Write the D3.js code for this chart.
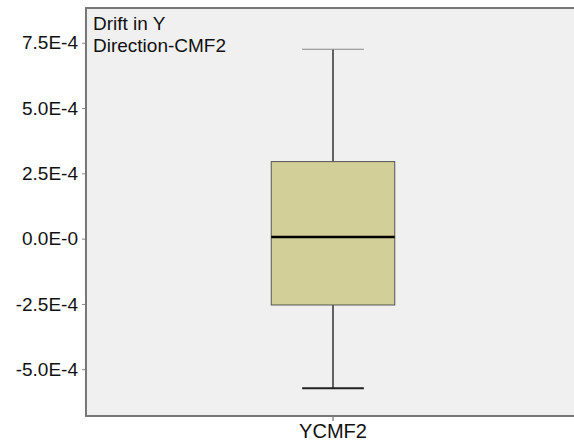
<!DOCTYPE html>
<html>
<head>
<meta charset="utf-8">
<script src="https://cdn.jsdelivr.net/npm/d3@7"></script>
<style>
  body { margin: 0; background: #fff; }
  svg text { font-family: "Liberation Sans", Arial, sans-serif; fill: #111; }
</style>
</head>
<body>
<svg id="chart" width="574" height="444"></svg>
<script>
/*********************** data ***********************/
var categories = ["YCMF2"];
var whiskerHigh = [7.25e-4];
var q3Values = [2.95e-4];
var medianValues = [0.06e-4];
var q1Values = [-2.54e-4];
var whiskerLow = [-5.73e-4];
var yTickValues = [-5e-4, -2.5e-4, 0, 2.5e-4, 5e-4, 7.5e-4];
var yTickLabels = ["-5.0E-4", "-2.5E-4", "0.0E-0", "2.5E-4", "5.0E-4", "7.5E-4"];
var titleLines = ["Drift in Y", "Direction-CMF2"];

/*********************** layout ***********************/
var W = 574, H = 444;
var mLeft = 86, mTop = 8, mBottom = 416, mRight = 580;

var svg = d3.select("#chart");

var x = d3.scaleBand().domain(categories).range([mLeft, mRight]).paddingInner(0).paddingOuter(1.5);
var y = d3.scaleLinear().domain([-6.79e-4, 8.83e-4]).range([mBottom, mTop]);

// plot background
svg.append("rect")
	.attr("x", mLeft).attr("y", mTop)
	.attr("width", mRight - mLeft).attr("height", mBottom - mTop)
	.attr("fill", "#f0f0f0");

var boxes = categories.map(function(c, i) {
	return {cat: c, hi: whiskerHigh[i], q3: q3Values[i], med: medianValues[i], q1: q1Values[i], lo: whiskerLow[i]};
});

var g = svg.selectAll("g.box").data(boxes).enter().append("g").attr("class", "box");
var bw = x.bandwidth();
function cx(d) { return x(d.cat) + bw / 2; }

// whiskers
g.append("line")
	.attr("x1", cx).attr("x2", cx)
	.attr("y1", function(d) { return y(d.hi); })
	.attr("y2", function(d) { return y(d.q3); })
	.attr("stroke", "#333").attr("stroke-width", 1.5);
g.append("line")
	.attr("x1", cx).attr("x2", cx)
	.attr("y1", function(d) { return y(d.q1); })
	.attr("y2", function(d) { return y(d.lo); })
	.attr("stroke", "#333").attr("stroke-width", 1.5);
// caps
g.append("line")
	.attr("x1", function(d) { return cx(d) - bw / 4; })
	.attr("x2", function(d) { return cx(d) + bw / 4; })
	.attr("y1", function(d) { return y(d.hi); })
	.attr("y2", function(d) { return y(d.hi); })
	.attr("stroke", "#888").attr("stroke-width", 1.2);
g.append("line")
	.attr("x1", function(d) { return cx(d) - bw / 4; })
	.attr("x2", function(d) { return cx(d) + bw / 4; })
	.attr("y1", function(d) { return y(d.lo); })
	.attr("y2", function(d) { return y(d.lo); })
	.attr("stroke", "#222").attr("stroke-width", 2);
// box
g.append("rect")
	.attr("x", function(d) { return x(d.cat); })
	.attr("y", function(d) { return y(d.q3); })
	.attr("width", bw)
	.attr("height", function(d) { return y(d.q1) - y(d.q3); })
	.attr("fill", "#d3cf98")
	.attr("stroke", "#555").attr("stroke-width", 1);
// median
g.append("line")
	.attr("x1", function(d) { return x(d.cat); })
	.attr("x2", function(d) { return x(d.cat) + bw; })
	.attr("y1", function(d) { return y(d.med); })
	.attr("y2", function(d) { return y(d.med); })
	.attr("stroke", "#000").attr("stroke-width", 2.5);

// frame (no right edge)
var frame = "M" + (W + 2) + "," + mTop + "H" + mLeft + "V" + mBottom + "H" + (W + 2);
svg.append("path").attr("d", frame).attr("fill", "none")
	.attr("stroke", "#777").attr("stroke-width", 2);

// y axis
var yAxis = d3.axisLeft(y)
	.tickValues(yTickValues)
	.tickSize(3)
	.tickPadding(4)
	.tickFormat(function(d, i) { return yTickLabels[i]; });
var ya = svg.append("g").attr("transform", "translate(" + (mLeft - 1) + ",0)").call(yAxis);
ya.select(".domain").remove();
ya.selectAll(".tick line").attr("stroke", "#888");
ya.selectAll(".tick text").style("font-size", "19px").attr("fill", "#111");

// x axis
var xAxis = d3.axisBottom(x).tickSize(4).tickPadding(3);
var xa = svg.append("g").attr("transform", "translate(0," + (mBottom + 1) + ")").call(xAxis);
xa.select(".domain").remove();
xa.selectAll(".tick line").attr("stroke", "#555");
xa.selectAll(".tick text").style("font-size", "20px").attr("fill", "#111");

// title in corner
svg.append("g").selectAll("text").data(titleLines).enter().append("text")
	.attr("x", mLeft + 7)
	.attr("y", function(d, i) { return 30 + i * 21.5; })
	.style("font-size", "19px")
	.text(function(d) { return d; });
</script>
</body>
</html>
